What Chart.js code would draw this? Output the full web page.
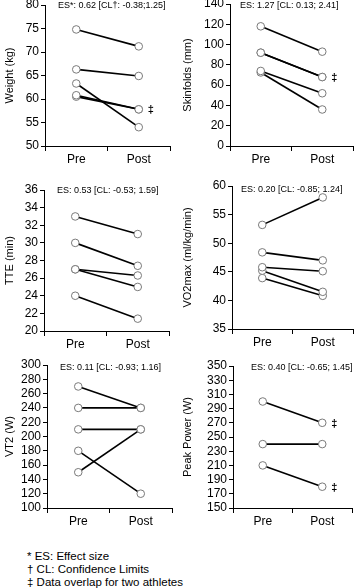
<!DOCTYPE html>
<html>
<head>
<meta charset="utf-8">
<script src="https://cdn.jsdelivr.net/npm/chart.js@4.4.1/dist/chart.umd.min.js"></script>
<style>
  body { margin: 0; background: #fff; width: 358px; height: 588px; position: relative; overflow: hidden; }
  canvas { position: absolute; }
  #notes { position: absolute; left: 27px; top: 550px; font: 11.5px "Liberation Sans", Arial, sans-serif; line-height: 12.8px; color: #000; }
</style>
</head>
<body>
<canvas id="c1"></canvas>
<canvas id="c2"></canvas>
<canvas id="c3"></canvas>
<canvas id="c4"></canvas>
<canvas id="c5"></canvas>
<canvas id="c6"></canvas>
<div id="notes">
  <div>* ES: Effect size</div>
  <div>† CL: Confidence Limits</div>
  <div>‡ Data overlap for two athletes</div>
</div>
<script>
// Categories on the x axis
let phases = ["Pre", "Post"];

// Values per athlete, Pre and Post
let weightPre = [74.8, 66.3, 63.3, 60.8, 60.5];
let weightPost = [71.2, 64.9, 54.0, 57.8, 57.8];
let weightOverlap = [57.8];

let skinfoldsPre = [118, 92, 92, 74, 72.5];
let skinfoldsPost = [93, 68, 68, 52, 36];
let skinfoldsOverlap = [68];

let ttePre = [33, 30, 27, 27, 24];
let ttePost = [31, 27.4, 26.3, 25, 21.4];
let tteOverlap = [];

let vo2Pre = [53.2, 48.4, 45.8, 45.2, 43.9];
let vo2Post = [58, 47, 45.1, 41.5, 40.8];
let vo2Overlap = [];

let vt2Pre = [270, 240, 210, 180, 150];
let vt2Post = [240, 240, 210, 120, 210];
let vt2Overlap = [];

let peakPre = [300, 240, 210];
let peakPost = [270, 240, 180];
let peakOverlap = [270, 180];

// Effect size labels
let esLabels = [
    "ES*: 0.62 [CL†: -0.38;1.25]",
    "ES: 1.27 [CL: 0.13; 2.41]",
    "ES: 0.53 [CL: -0.53; 1.59]",
    "ES: 0.20 [CL: -0.85; 1.24]",
    "ES: 0.11 [CL: -0.93; 1.16]",
    "ES: 0.40 [CL: -0.65; 1.45]"
];

let FONT = "'Liberation Sans', Arial, sans-serif";

// Draws the ES text and the overlap marks next to the Post circles
let extrasPlugin = {
    id: "extras",
    afterDatasetsDraw(chart) 
    {
        let o = chart.options.plugins.extras;
        let ctx = chart.ctx;
        let area = chart.chartArea;
        ctx.save();
        ctx.fillStyle = "#000";
        ctx.font = "9px " + FONT;
        ctx.textBaseline = "middle";
        ctx.fillText(o.es, area.left + o.esX, area.top + o.esY);
        ctx.font = "bold 11px " + FONT;
        let xScale = chart.scales.x;
        let yScale = chart.scales.y;
        for (let v of o.overlap) 
        {
            ctx.fillText("‡", xScale.getPixelForValue(1) + 9, yScale.getPixelForValue(v) + 1);
        }
        ctx.restore();
    }
};

function makePanel(id, box, pre, post, overlap, yMin, yMax, yStep, title, es, esX, esY) 
{
    let padTop = 14;
    let xHeight = 26;
    let canvas = document.getElementById(id);
    let cTop = box.top - padTop;
    let cHeight = box.bottom + xHeight - cTop;
    canvas.style.left = box.cl + "px";
    canvas.style.top = cTop + "px";
    canvas.style.width = box.cw + "px";
    canvas.style.height = cHeight + "px";
    canvas.width = box.cw;
    canvas.height = cHeight;

    let datasets = [];
    for (let i = 0; i < pre.length; i++) 
    {
        datasets.push({
            data: [pre[i], post[i]],
            borderColor: "#000",
            borderWidth: 1.6,
            pointRadius: 3.8,
            pointBorderWidth: 1,
            pointBorderColor: "#7a7a7a",
            pointBackgroundColor: "#fff",
            clip: false
        });
    }

    new Chart(canvas, 
    {
        type: "line",
        data: { labels: phases, datasets: datasets },
        options: 
        {
            responsive: false,
            animation: false,
            events: [],
            layout: { padding: { top: padTop, right: box.cl + box.cw - box.right, left: 0, bottom: 0 } },
            plugins: 
            {
                legend: { display: false },
                tooltip: { enabled: false },
                extras: { es: es, esX: esX, esY: esY, overlap: overlap }
            },
            scales: 
            {
                x: 
                {
                    offset: true,
                    grid: { offset: true, drawOnChartArea: false, color: "#000", tickLength: 5 },
                    border: { color: "#000", width: 1 },
                    ticks: { color: "#000", padding: 1, font: { family: FONT, size: 12 } },
                    afterFit: (s) => { s.height = xHeight; }
                },
                y: 
                {
                    min: yMin,
                    max: yMax,
                    grid: { drawOnChartArea: false, color: "#000", tickLength: 4 },
                    border: { color: "#000", width: 1 },
                    ticks: { stepSize: yStep, autoSkip: false, color: "#000", padding: 2, font: { family: FONT, size: 12 } },
                    title: { display: true, text: title, color: "#000", padding: { top: 3, bottom: 0 }, font: { family: FONT, size: 11 } },
                    afterFit: (s) => { s.width = box.left - box.cl; }
                }
            }
        },
        plugins: [extrasPlugin]
    });
}

makePanel("c1", { cl: 0, cw: 178, left: 45, right: 170, top: 4.7, bottom: 146 },
    weightPre, weightPost, weightOverlap, 50, 80, 5, "Weight (kg)", esLabels[0], 13, 1);
makePanel("c2", { cl: 178, cw: 180, left: 230, right: 355, top: 4, bottom: 146 },
    skinfoldsPre, skinfoldsPost, skinfoldsOverlap, 0, 140, 20, "Skinfolds (mm)", esLabels[1], 10, 2);
makePanel("c3", { cl: 0, cw: 178, left: 44, right: 169, top: 190, bottom: 331 },
    ttePre, ttePost, tteOverlap, 20, 36, 2, "TTE (min)", esLabels[2], 13, 1);
makePanel("c4", { cl: 178, cw: 180, left: 232, right: 357, top: 186, bottom: 329 },
    vo2Pre, vo2Post, vo2Overlap, 35, 60, 5, "VO2max (ml/kg/min)", esLabels[3], 9, 4);
makePanel("c5", { cl: 0, cw: 178, left: 47, right: 172, top: 365, bottom: 508 },
    vt2Pre, vt2Post, vt2Overlap, 100, 300, 20, "VT2 (W)", esLabels[4], 13, 3);
makePanel("c6", { cl: 178, cw: 180, left: 233, right: 352, top: 366, bottom: 508 },
    peakPre, peakPost, peakOverlap, 150, 350, 20, "Peak Power (W)", esLabels[5], 18, 2);
</script>
</body>
</html>
